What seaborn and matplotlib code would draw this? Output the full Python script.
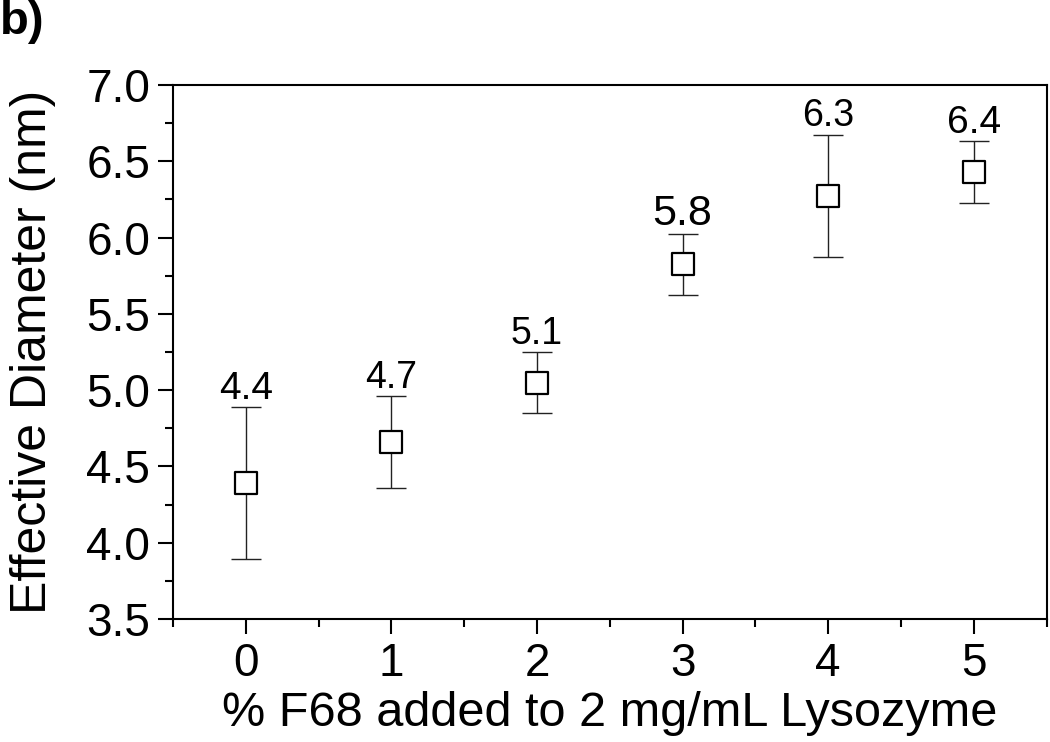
import numpy as np
import matplotlib
matplotlib.use("Agg")
import matplotlib.pyplot as plt
import matplotlib.ticker as mticker
import seaborn as sns
import pandas as pd

f68_pct = [0, 1, 2, 3, 4, 5]
diameter = [4.39, 4.66, 5.05, 5.825, 6.275, 6.43]
diameter_err = [0.50, 0.30, 0.20, 0.20, 0.40, 0.20]
point_labels = ["4.4", "4.7", "5.1", "5.8", "6.3", "6.4"]
label_sizes = [28, 27, 27, 31, 27, 28]

df = pd.DataFrame({"pct": f68_pct, "diam": diameter, "err": diameter_err})

sns.set_theme(style="ticks")
plt.rcParams["font.family"] = ["Liberation Sans", "DejaVu Sans"]
plt.rcParams["text.color"] = "black"

fig = plt.figure(figsize=(10.5, 7.42), dpi=100)
ax = fig.add_axes([0.1648, 0.1658, 0.832, 0.7196])

ax.errorbar(df["pct"], df["diam"], yerr=df["err"], fmt="none",
            ecolor="#222222", elinewidth=1.0, capsize=11, capthick=1.0, zorder=2)
sns.scatterplot(data=df, x="pct", y="diam", marker="s", s=240,
                facecolor="white", edgecolor="black", linewidth=1.6,
                ax=ax, zorder=3, legend=False)

for x, y, e, lab, fs in zip(f68_pct, diameter, diameter_err, point_labels, label_sizes):
    ax.annotate(lab, (x, y + e), xytext=(0, 6), textcoords="offset points",
                ha="center", va="baseline", fontsize=fs, color="black")

ax.set_xlim(-0.5, 5.5)
ax.set_ylim(3.5, 7.0)
ax.xaxis.set_major_locator(mticker.MultipleLocator(1))
ax.xaxis.set_minor_locator(mticker.MultipleLocator(0.5))
ax.yaxis.set_major_locator(mticker.MultipleLocator(0.5))
ax.yaxis.set_minor_locator(mticker.MultipleLocator(0.25))
ax.yaxis.set_major_formatter(mticker.FormatStrFormatter("%.1f"))

ax.tick_params(which="major", direction="out", length=10.5, width=1.5,
               labelsize=33, pad=6, color="black", labelcolor="black")
ax.tick_params(which="minor", direction="out", length=5.5, width=1.5, color="black")
ax.tick_params(top=False, right=False, which="both")
for sp in ax.spines.values():
    sp.set_linewidth(1.5)
    sp.set_color("black")
    sp.set_visible(True)

ax.set_xlabel("% F68 added to 2 mg/mL Lysozyme", fontsize=35, labelpad=4, color="black")
ax.set_ylabel("Effective Diameter (nm)", fontsize=36, labelpad=22, color="black")

fig.text(0.0, 1.0, "b)", fontsize=34, fontweight="bold", ha="left", va="top", color="black")

fig.savefig("out.png", dpi=100)
